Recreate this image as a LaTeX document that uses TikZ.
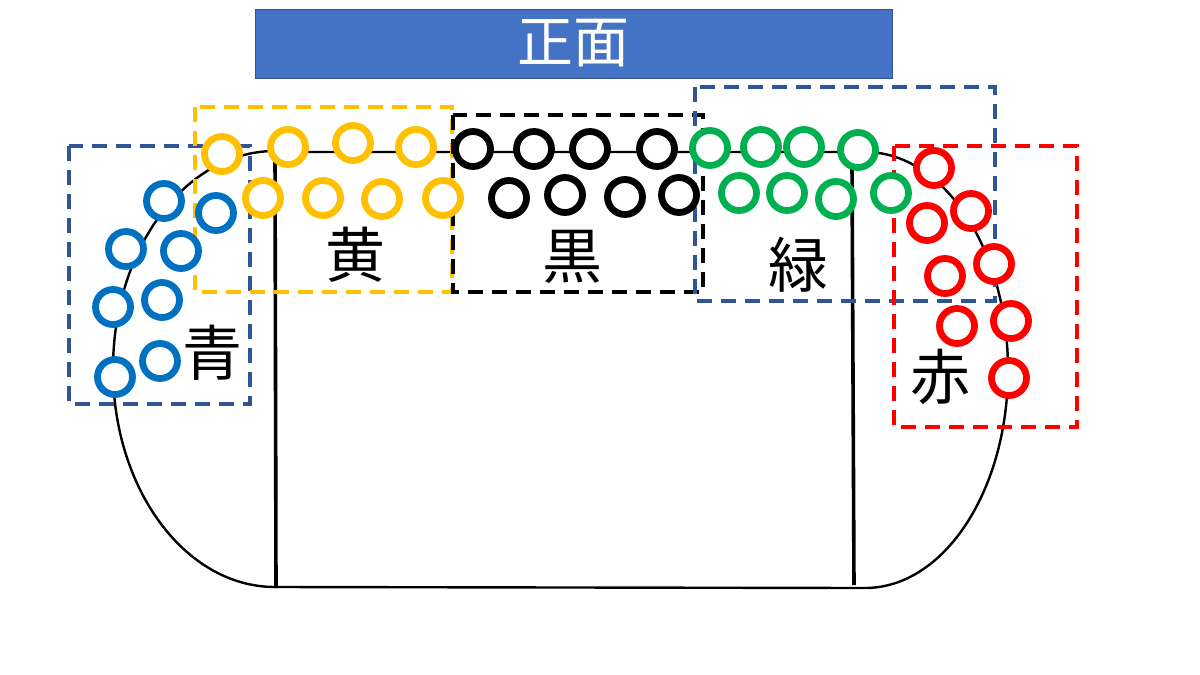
\documentclass[tikz,border=0pt]{standalone}
\usepackage{fontspec}
\newfontfamily\jp{Noto Sans CJK JP}
\usepackage{tikz}
\usetikzlibrary{positioning}

\definecolor{frontfill}{HTML}{4472C4}
\definecolor{frontline}{HTML}{2F528F}
\definecolor{zoneblue}{HTML}{2F5597}
\definecolor{seatblue}{HTML}{0070C0}
\definecolor{seatyellow}{HTML}{FFC000}
\definecolor{seatgreen}{HTML}{00B050}
\definecolor{seatred}{HTML}{FF0000}

\begin{document}
\begin{tikzpicture}[
    x=0.5pt, y=-0.5pt,
    seat/.style={circle, draw, line width=3.4pt, fill=white, inner sep=0pt, minimum size=17.5pt},
    zone/.style={line width=1.8pt, dash pattern=on 7.5pt off 4.5pt},
    zonetext/.style={font=\jp\fontsize{30}{30}\selectfont, inner sep=0pt},
    outline/.style={line width=1.2pt},
    wall/.style={line width=1.8pt},
]
    \useasboundingbox (0,0) rectangle (1200,675);

    % title bar
    \node[draw=frontline, fill=frontfill, line width=0.5pt, minimum width=318.5pt, minimum height=34.5pt,
          text=white, font=\jp\fontsize{28}{28}\selectfont] (front) at (573.5,43.5) {正面};

    % stage
    \draw[outline] (275,152) -- (865,152)
        arc[start angle=90, end angle=-90, x radius=71.5pt, y radius=109pt]
        -- (275,587)
        arc[start angle=270, end angle=90, x radius=81pt, y radius=109pt];
    \draw[wall] (275,152) -- (276,588);
    \draw[wall] (852,165) -- (854,585);

    % zones
    \draw[zone, zoneblue] (69,146) rectangle (250,404);
    \draw[zone, seatyellow] (195,107) rectangle (452,292);
    \draw[zone, black] (453,115) rectangle (703,292);
    \draw[zone, zoneblue] (695,87) rectangle (995,301);
    \draw[zone, seatred] (894,146) rectangle (1077,427);

    % seats
    \foreach \x/\y [count=\i] in {164/201, 216/213, 126/249, 181/251, 113/307, 162/300, 160/361, 115/377}
        \node[seat, draw=seatblue] (blue\i) at (\x,\y) {};
    \foreach \x/\y [count=\i] in {222/154, 288/147, 353/143, 416/147, 263/198, 323/198, 382/199, 443/198}
        \node[seat, draw=seatyellow] (yellow\i) at (\x,\y) {};
    \foreach \x/\y [count=\i] in {473/149, 534/149, 590/149, 657/149, 509/198, 565/195, 625/197, 679/195}
        \node[seat, draw=black] (black\i) at (\x,\y) {};
    \foreach \x/\y [count=\i] in {710/148, 761/147, 804/147, 858/150, 739/193, 787/193, 836/199, 891/193}
        \node[seat, draw=seatgreen] (green\i) at (\x,\y) {};
    \foreach \x/\y [count=\i] in {934/168, 971/211, 927/223, 994/264, 945/276, 1011/321, 957/326, 1009/378}
        \node[seat, draw=seatred] (red\i) at (\x,\y) {};

    % zone names
    \node[zonetext] (aotext) at (212,353) {青};
    \node[zonetext] (kitext) at (355,255) {黄};
    \node[zonetext] (kurotext) at (572,257) {黒};
    \node[zonetext] (midoritext) at (798,265) {緑};
    \node[zonetext] (akatext) at (940,377) {赤};
\end{tikzpicture}
\end{document}
